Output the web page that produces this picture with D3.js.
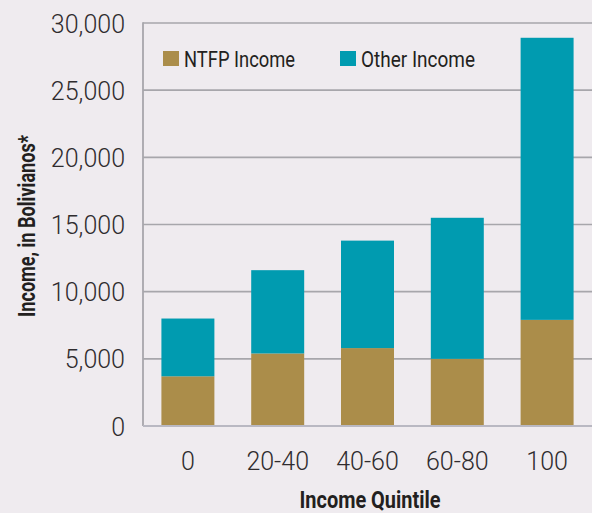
<!DOCTYPE html>
<html><head><meta charset="utf-8">
<script src="https://cdn.jsdelivr.net/npm/d3@7"></script>
<style>
html,body{margin:0;padding:0;background:#efebef;}
svg{display:block;}
</style></head>
<body>
<svg id="chart" width="592" height="513"></svg>
<script>
const categories = ["0", "20-40", "40-60", "60-80", "100"];
const ntfpIncome = [3700, 5400, 5800, 5000, 7900];
const otherIncome = [4300, 6200, 8000, 10500, 21000];
const seriesNames = ["NTFP Income", "Other Income"];
const seriesColors = ["#ab8d4a", "#009bb0"];
const yTicks = [0, 5000, 10000, 15000, 20000, 25000, 30000];

const svg = d3.select("#chart");
const W = 592, H = 513;
const m = {left: 143, top: 23, right: 0, bottom: 87};
const x = d3.scaleBand().domain(categories).range([m.left, W - m.right]).paddingInner(0.41).paddingOuter(0.205);
const y = d3.scaleLinear().domain([0, 30000]).range([H - m.bottom, m.top]);
const narrow = "Roboto, 'Liberation Sans', sans-serif";

svg.append("rect").attr("width", W).attr("height", H).attr("fill", "#efebef");

// gridlines
svg.append("g").selectAll("line").data(yTicks.filter(d => d > 0)).join("line")
  .attr("x1", m.left).attr("x2", W).attr("y1", d => y(d)).attr("y2", d => y(d))
  .attr("stroke", "#a7a6ab").attr("stroke-width", 1.6);

// stacked data
const rows = categories.map((c, i) => ({cat: c, ntfp: ntfpIncome[i], other: otherIncome[i]}));
const stack = d3.stack().keys(["ntfp", "other"])(rows);
svg.append("g").selectAll("g").data(stack).join("g")
  .attr("fill", (d, i) => seriesColors[i])
  .selectAll("rect").data(d => d).join("rect")
  .attr("x", d => x(d.data.cat)).attr("width", x.bandwidth())
  .attr("y", d => y(d[1])).attr("height", d => y(d[0]) - y(d[1]));

// axes lines
svg.append("line").attr("x1", m.left).attr("x2", m.left).attr("y1", y(30000) - 0.8).attr("y2", y(0))
  .attr("stroke", "#a7a6ab").attr("stroke-width", 1.8);
svg.append("line").attr("x1", m.left).attr("x2", W).attr("y1", y(0)).attr("y2", y(0))
  .attr("stroke", "#b9b8c2").attr("stroke-width", 1.8);

// y tick labels
const yAxis = d3.axisLeft(y).tickValues(yTicks).tickSize(0).tickPadding(18).tickFormat(d3.format(","));
const gy = svg.append("g").attr("transform", `translate(${m.left},0)`).call(yAxis);
gy.select(".domain").remove();
gy.selectAll("text").attr("font-family", "Roboto, 'Liberation Sans', sans-serif").attr("font-weight", 300)
  .attr("font-size", 25).attr("fill", "#2f2c2e").attr("dy", "0.36em");

// x tick labels
const xAxis = d3.axisBottom(x).tickSize(0).tickPadding(0);
const gx = svg.append("g").attr("transform", `translate(0,${y(0)})`).call(xAxis);
gx.select(".domain").remove();
gx.selectAll("text").attr("font-family", "Roboto, 'Liberation Sans', sans-serif").attr("font-weight", 300)
  .attr("font-size", 25).attr("fill", "#2f2c2e").attr("y", 44).attr("dy", null);

// axis titles
svg.append("text").attr("x", 370).attr("y", 508).attr("text-anchor", "middle")
  .attr("font-family", narrow).attr("font-weight", "bold")
  .attr("font-size", 24.5).attr("fill", "#231f20")
  .attr("textLength", 141).attr("lengthAdjust", "spacingAndGlyphs").text("Income Quintile");
svg.append("text").attr("transform", "translate(35,226) rotate(-90)").attr("text-anchor", "middle")
  .attr("font-family", narrow).attr("font-weight", "bold")
  .attr("font-size", 24).attr("fill", "#231f20")
  .attr("textLength", 182).attr("lengthAdjust", "spacingAndGlyphs").text("Income, in Bolivianos*");

// legend
const legX = [163, 340];
const legLen = [111, 114];
const leg = svg.append("g").selectAll("g").data(seriesNames).join("g")
  .attr("transform", (d, i) => `translate(${legX[i]},51)`);
leg.append("rect").attr("width", 16).attr("height", 15).attr("fill", (d, i) => seriesColors[i]);
leg.append("text").attr("x", 21).attr("y", 15.7)
  .attr("font-family", narrow)
  .attr("font-size", 22).attr("fill", "#231f20")
  .attr("textLength", (d, i) => legLen[i]).attr("lengthAdjust", "spacingAndGlyphs").text(d => d);
</script>
</body></html>
